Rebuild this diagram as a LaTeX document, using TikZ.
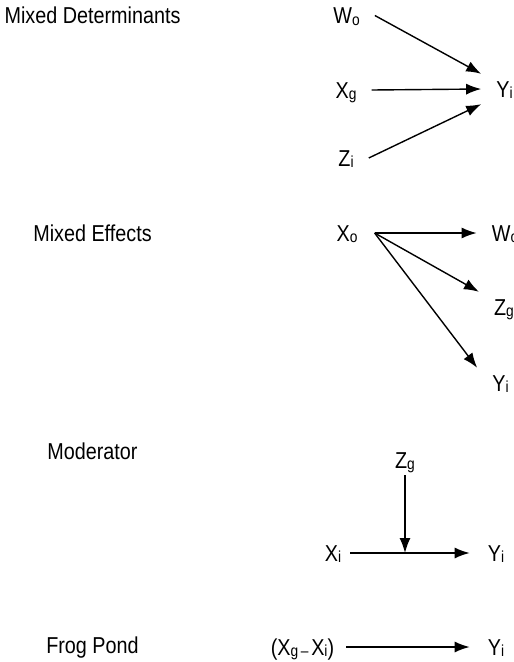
\documentclass[tikz,border=0pt]{standalone}
\usepackage{fontspec}
\setmainfont[FakeStretch=0.86]{Liberation Sans}
\usetikzlibrary{arrows.meta,positioning}
\newcommand{\vsub}[2]{#1\raisebox{-1.5pt}{\fontsize{16}{16}\selectfont #2}}
\tikzset{
  title/.style={inner sep=0pt,text height=16.5pt,text depth=0pt,font=\fontsize{23}{27}\selectfont},
  var/.style={inner xsep=15pt,inner ysep=0pt,minimum height=30pt,text height=16.5pt,text depth=0pt,font=\fontsize{23}{27}\selectfont},
  edge/.style={-{Latex[length=15pt,width=11pt]},line width=1.4pt}
}

\begin{document}
\begin{tikzpicture}[x=1pt,y=-1pt]
\useasboundingbox (0,0) rectangle (514,662);
\clip (0,0) rectangle (514,662);
% mixed determinants
\node[title] (tdet) at (92.5,15) {Mixed Determinants};
\node[var] (wo1) at (346.5,15.5) {\vsub{W}{o}};
\node[var] (xg1) at (346,90) {\vsub{X}{g}};
\node[var] (zi1) at (346,158) {\vsub{Z}{i}};
\node[var] (yi1) at (504.5,89) {\vsub{Y}{i}};
\draw[edge] (wo1.east) -- (yi1.north west);
\draw[edge] (xg1.east) -- (yi1.west);
\draw[edge] (zi1.east) -- (yi1.south west);
% mixed effects
\node[title] (teff) at (92.5,233) {Mixed Effects};
\node[var,inner xsep=17pt] (xo2) at (347,233) {\vsub{X}{o}};
\node[var] (wo2) at (505,233) {\vsub{W}{o}};
\node[var] (zg2) at (504,307) {\vsub{Z}{g}};
\node[var] (yi2) at (500.5,383) {\vsub{Y}{i}};
\foreach \t/\a in {wo2/west,zg2/north west,yi2/north west}
  \draw[edge] (xo2.east) -- (\t.\a);
% moderator
\node[title] (tmod) at (92.5,451) {Moderator};
\node[var] (zg3) at (405,460) {\vsub{Z}{g}};
\node[var,inner xsep=9pt] (xi3) at (333,553) {\vsub{X}{i}};
\node[var,inner xsep=18pt] (yi3) at (496,553) {\vsub{Y}{i}};
\draw[edge] (xi3.east) -- (yi3.west);
\draw[edge] (zg3.south) -- (zg3.south |- xi3.east);
% frog pond
\node[title] (tfrog) at (92.5,645) {Frog Pond};
\node[var,inner xsep=12pt] (dx4) at (302.5,647) {(\vsub{X}{g\,–\,}\vsub{X}{i})};
\node[var,inner xsep=18pt] (yi4) at (496,647) {\vsub{Y}{i}};
\draw[edge] (dx4.east) -- (yi4.west);
\end{tikzpicture}
\end{document}
